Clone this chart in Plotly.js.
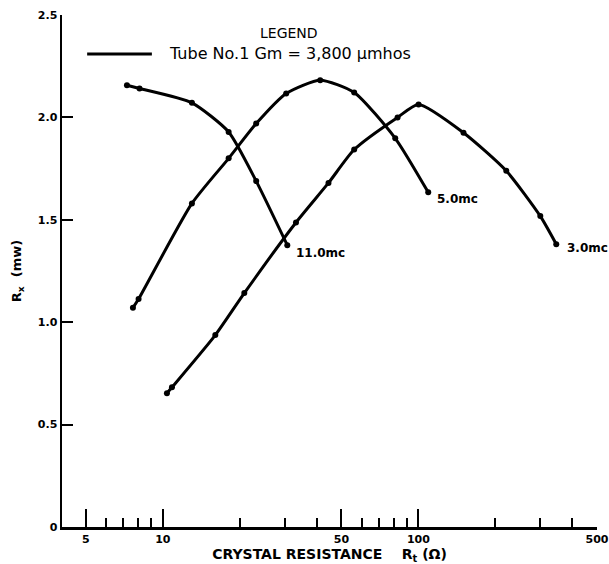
<!DOCTYPE html>
<html>
<head>
<meta charset="utf-8">
<script src="https://cdn.plot.ly/plotly-3.0.1.min.js"></script>
<style>html,body{margin:0;padding:0;background:#fff;}#chart{width:609px;height:564px;}</style>
</head>
<body>
<div id="chart"></div>
<script>
// Crystal resistance (ohms) and Rx (mw) for each crystal frequency
const x11 = [7.24, 8.11, 13.0, 18.1, 23.2, 30.7];
const y11 = [2.157, 2.141, 2.071, 1.929, 1.689, 1.376];

const x5 = [7.64, 8.04, 13.0, 18.1, 23.2, 30.4, 41.3, 56.1, 81.2, 109.3];
const y5 = [1.070, 1.113, 1.580, 1.800, 1.970, 2.117, 2.182, 2.122, 1.898, 1.634];

const x3 = [10.38, 10.86, 16.05, 20.84, 33.2, 44.5, 56.1, 82.9, 100.2, 150.2, 220.8, 300, 346.4];
const y3 = [0.653, 0.682, 0.937, 1.142, 1.487, 1.680, 1.843, 2.000, 2.063, 1.925, 1.739, 1.518, 1.381];

const curveLabels = ["11.0mc", "5.0mc", "3.0mc"];
const xMajorTicks = [5, 10, 50, 100, 500];
const xMajorText = ["5", "10", "50", "100", "500"];
const xMinorTicks = [6, 7, 8, 9, 20, 30, 40, 60, 70, 80, 90, 200, 300, 400];
const yTicks = [0, 0.5, 1.0, 1.5, 2.0, 2.5];
const yTickText = ["0", "0.5", "1.0", "1.5", "2.0", "2.5"];
const legendTitle = "LEGEND";
const legendText = "Tube No.1 Gm = 3,800 \u03bcmhos";

const lineStyle = {color: "black", width: 3, shape: "spline", smoothing: 0.6};
const markerStyle = {color: "black", size: 6};
function curve(x, y, name) {
  return {x: x, y: y, name: name, type: "scatter", mode: "lines+markers",
          line: lineStyle, marker: markerStyle, showlegend: false, hoverinfo: "skip"};
}
const data = [curve(x11, y11, curveLabels[0]), curve(x5, y5, curveLabels[1]), curve(x3, y3, curveLabels[2])];

const txtFont = {family: "DejaVu Sans, Liberation Sans, sans-serif", size: 12, color: "black", weight: "bold"};

const layout = {
  width: 609, height: 564,
  margin: {l: 62, r: 12, t: 15, b: 37, autoexpand: false},
  paper_bgcolor: "white", plot_bgcolor: "white",
  font: {family: "DejaVu Sans, sans-serif", color: "black"},
  xaxis: {
    type: "log", range: [0.6056, 2.699],
    showgrid: false, zeroline: false, showline: true, linecolor: "black", linewidth: 2.5,
    ticks: "inside", ticklen: 18, tickwidth: 2, tickcolor: "black",
    tickmode: "array", tickvals: xMajorTicks, ticktext: xMajorText,
    tickfont: {family: "DejaVu Sans, sans-serif", size: 11, color: "black", weight: "bold"},
    minor: {tickmode: "array", tickvals: xMinorTicks, ticks: "inside", ticklen: 9, tickwidth: 2, tickcolor: "black", showgrid: false},
    title: {text: "CRYSTAL RESISTANCE\u00a0\u00a0\u00a0\u00a0R<sub>t</sub> (\u03a9)", standoff: 1,
            font: {family: "DejaVu Sans, sans-serif", size: 14, color: "black", weight: "bold"}},
    fixedrange: true
  },
  yaxis: {
    range: [0, 2.5],
    showgrid: false, zeroline: false, showline: true, linecolor: "black", linewidth: 2.5,
    ticks: "inside", ticklen: 11, tickwidth: 2, tickcolor: "black",
    tickmode: "array", tickvals: yTicks, ticktext: yTickText,
    tickfont: {family: "DejaVu Sans, sans-serif", size: 11, color: "black", weight: "bold"},
    title: {text: "R<sub>x</sub>  (mw)", standoff: 13,
            font: {family: "DejaVu Sans, sans-serif", size: 13, color: "black", weight: "bold"}},
    fixedrange: true
  },
  annotations: [
    {xref: "x", yref: "y", x: 1.514, y: 1.337, text: curveLabels[0], showarrow: false, xanchor: "left", yanchor: "middle", font: txtFont},
    {xref: "x", yref: "y", x: 2.066, y: 1.60, text: curveLabels[1], showarrow: false, xanchor: "left", yanchor: "middle", font: txtFont},
    {xref: "x", yref: "y", x: 2.575, y: 1.36, text: curveLabels[2], showarrow: false, xanchor: "left", yanchor: "middle", font: txtFont},
    {xref: "paper", yref: "paper", x: 0.424, y: 0.965, text: legendTitle, showarrow: false, xanchor: "center", yanchor: "middle",
     font: {family: "DejaVu Sans, sans-serif", size: 14, color: "black"}},
    {xref: "paper", yref: "paper", x: 0.196, y: 0.924, text: legendText, showarrow: false, xanchor: "left", yanchor: "middle",
     font: {family: "DejaVu Sans, sans-serif", size: 16, color: "black"}}
  ],
  shapes: [
    {type: "line", xref: "paper", yref: "paper", x0: 0.047, x1: 0.168, y0: 0.924, y1: 0.924, line: {color: "black", width: 3}}
  ]
};

Plotly.newPlot("chart", data, layout, {displayModeBar: false, staticPlot: true});
</script>
</body>
</html>
